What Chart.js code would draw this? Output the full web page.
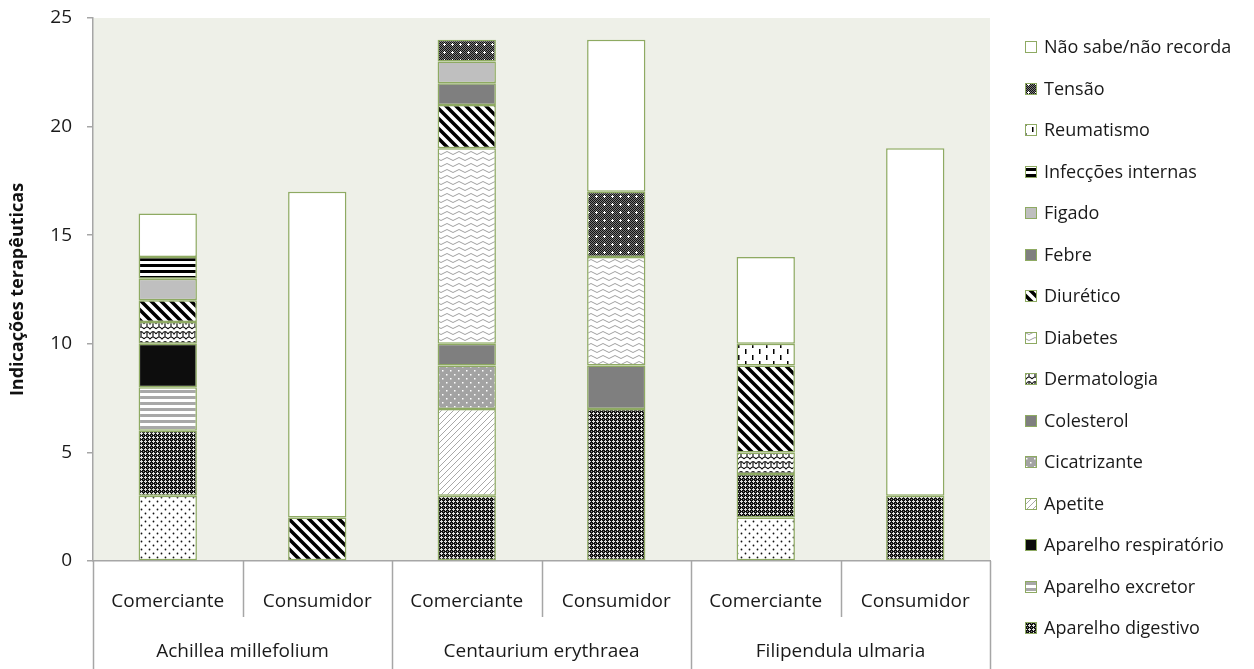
<!DOCTYPE html>
<html>
<head>
<meta charset="utf-8">
<script src="https://cdn.jsdelivr.net/npm/chart.js@4/dist/chart.umd.min.js"></script>
<style>
html,body{margin:0;padding:0;background:#fff;}
canvas{display:block;}
</style>
</head>
<body>
<canvas id="c" width="1254" height="669"></canvas>
<script>
// ---- DATA ----
const subCategories = ['Comerciante','Consumidor','Comerciante','Consumidor','Comerciante','Consumidor'];
const groupCategories = ['Achillea millefolium','Centaurium erythraea','Filipendula ulmaria'];
const yTicks = [0,5,10,15,20,25];

// stacked bottom -> top
const hiddenDotted        = [3,0,0,0,2,0];   // dotted series (its legend entry is cut off in the reference)
const aparelhoDigestivo   = [3,0,3,7,2,3];
const aparelhoExcretor    = [2,0,0,0,0,0];
const aparelhoRespirat    = [2,0,0,0,0,0];
const apetite             = [0,0,4,0,0,0];
const cicatrizante        = [0,0,2,0,0,0];
const colesterol          = [0,0,1,2,0,0];
const dermatologia        = [1,0,0,0,1,0];
const diabetes            = [0,0,9,5,0,0];
const diuretico           = [1,2,2,0,4,0];
const febre               = [0,0,1,0,0,0];
const figado              = [1,0,1,0,0,0];
const infeccoesInternas   = [1,0,0,0,0,0];
const reumatismo          = [0,0,0,0,1,0];
const tensao              = [0,0,1,3,0,0];
const naoSabe             = [2,15,0,7,4,16];

const seriesLabels = ['', 'Aparelho digestivo','Aparelho excretor','Aparelho respiratório','Apetite','Cicatrizante',
  'Colesterol','Dermatologia','Diabetes','Diurético','Febre','Figado','Infecções internas','Reumatismo','Tensão',
  'Não sabe/não recorda'];
const seriesValues = [hiddenDotted, aparelhoDigestivo, aparelhoExcretor, aparelhoRespirat, apetite, cicatrizante,
  colesterol, dermatologia, diabetes, diuretico, febre, figado, infeccoesInternas, reumatismo, tensao, naoSabe];

// ---- PATTERNS ----
const helperCtx = document.createElement('canvas').getContext('2d');
function pat(w,h,draw){
  const c=document.createElement('canvas'); c.width=w; c.height=h;
  const g=c.getContext('2d'); draw(g,w,h);
  return helperCtx.createPattern(c,'repeat');
}
const P = {
  dots: pat(8,8,(g)=>{g.fillStyle='#fff';g.fillRect(0,0,8,8);g.fillStyle='#111';
    g.beginPath();g.arc(1.5,1.5,0.9,0,7);g.fill();g.beginPath();g.arc(5.5,5.5,0.9,0,7);g.fill();}),
  digest: pat(4,4,(g)=>{g.fillStyle='#111';g.fillRect(0,0,4,4);g.fillStyle='#e0e0e0';
    [[1,0],[0,1],[1,1],[2,1],[1,2]].forEach(p=>g.fillRect(p[0],p[1],1,1));g.fillStyle='#888';g.fillRect(3,3,1,1);}),
  excretor: pat(4,6,(g)=>{g.fillStyle='#fff';g.fillRect(0,0,4,6);g.fillStyle='#a8a8a8';g.fillRect(0,0,4,3);}),
  resp: '#0d0d0d',
  apetite: pat(6,6,(g)=>{g.fillStyle='#fff';g.fillRect(0,0,6,6);g.strokeStyle='#a8a8a8';g.lineWidth=1;
    g.beginPath();g.moveTo(0,6);g.lineTo(6,0);g.moveTo(-1,1);g.lineTo(1,-1);g.moveTo(5,7);g.lineTo(7,5);g.stroke();}),
  cicatr: pat(8,8,(g)=>{g.fillStyle='#a3a3a3';g.fillRect(0,0,8,8);g.fillStyle='#fff';
    g.fillRect(2,2,1.5,1.5);g.fillRect(6,6,1.5,1.5);}),
  colest: '#7f7f7f',
  dermat: pat(12,10,(g)=>{g.fillStyle='#fff';g.fillRect(0,0,12,10);g.strokeStyle='#111';g.lineWidth=1.2;
    g.beginPath();g.moveTo(0,4);g.quadraticCurveTo(3,-1,6,4);g.quadraticCurveTo(9,-1,12,4);
    g.moveTo(3,1.5);g.lineTo(3,7);g.moveTo(9,1.5);g.lineTo(9,7);
    g.moveTo(0,9);g.quadraticCurveTo(3,5,6,9);g.quadraticCurveTo(9,5,12,9);g.stroke();}),
  diabetes: pat(12,6,(g)=>{g.fillStyle='#fff';g.fillRect(0,0,12,6);g.strokeStyle='#a0a0a0';g.lineWidth=1;
    g.beginPath();g.moveTo(0,3);g.quadraticCurveTo(3,0,6,3);g.quadraticCurveTo(9,6,12,3);g.stroke();}),
  diuret: pat(10,10,(g)=>{g.fillStyle='#fff';g.fillRect(0,0,10,10);g.strokeStyle='#000';g.lineWidth=3.5;
    g.beginPath();g.moveTo(0,0);g.lineTo(10,10);g.moveTo(-2,8);g.lineTo(2,12);g.moveTo(8,-2);g.lineTo(12,2);g.stroke();}),
  febre: '#7f7f7f',
  figado: '#bfbfbf',
  infec: pat(4,6,(g)=>{g.fillStyle='#fff';g.fillRect(0,0,4,6);g.fillStyle='#000';g.fillRect(0,0,4,3);}),
  reuma: pat(14,12,(g)=>{g.fillStyle='#fff';g.fillRect(0,0,14,12);g.fillStyle='#000';
    g.fillRect(3,1,1.5,5);g.fillRect(10,7,1.5,5);}),
  tensao: pat(8,8,(g)=>{for(let y=0;y<8;y++)for(let x=0;x<8;x++){g.fillStyle=((x+y)%2===0)?'#111':'#7a7a7a';g.fillRect(x,y,1,1);}
    g.fillStyle='#fff';[[4,3],[3,4],[4,4],[5,4],[4,5]].forEach(p=>g.fillRect(p[0],p[1],1,1));}),
  nao: '#ffffff'
};
const seriesFills = [P.dots,P.digest,P.excretor,P.resp,P.apetite,P.cicatr,P.colest,P.dermat,P.diabetes,P.diuret,
  P.febre,P.figado,P.infec,P.reuma,P.tensao,P.nao];

const OLIVE = '#8eaa62';
const AXIS = '#a6a6a6';
const FONT = "'Open Sans', 'DejaVu Sans', sans-serif";

const datasets = seriesValues.map((vals,i)=>({
  label: seriesLabels[i],
  data: vals.map(v => v === 0 ? null : v),
  backgroundColor: seriesFills[i],
  borderColor: OLIVE,
  borderWidth: 1.5,
  borderSkipped: false,
  barPercentage: 0.39,
  categoryPercentage: 1.0
}));

// ---- PLUGINS ----
const bgPlugin = {
  id:'bg',
  beforeDraw(chart){
    const {ctx, chartArea:a} = chart;
    ctx.save(); ctx.fillStyle='#eef0e8'; ctx.fillRect(a.left,a.top,a.right-a.left,a.bottom-a.top); ctx.restore();
  }
};
const axisExtras = {
  id:'axisExtras',
  afterDraw(chart){
    const {ctx, chartArea:a} = chart;
    const xs = chart.scales.x;
    const n = subCategories.length;
    const half = (xs.getPixelForValue(1)-xs.getPixelForValue(0))/2;
    ctx.save();
    ctx.strokeStyle = AXIS; ctx.lineWidth = 1.5;
    for(let i=0;i<=n;i++){
      const x = i<n ? xs.getPixelForValue(i)-half : xs.getPixelForValue(n-1)+half;
      const isGroup = (i%2===0);
      ctx.beginPath(); ctx.moveTo(Math.round(x)+0.5, a.bottom); ctx.lineTo(Math.round(x)+0.5, isGroup ? chart.height : a.bottom+56); ctx.stroke();
    }
    ctx.fillStyle='#1a1a1a'; ctx.font = "19px " + FONT; ctx.textAlign='center'; ctx.textBaseline='middle';
    groupCategories.forEach((g,k)=>{
      const cx = (xs.getPixelForValue(2*k)+xs.getPixelForValue(2*k+1))/2;
      ctx.fillText(g, cx, 652);
    });
    // legend (reversed, dotted series entry not visible in reference)
    const items = [];
    for(let i=datasets.length-1;i>=1;i--) items.push(i);
    ctx.textAlign='left';
    ctx.font = "18px " + FONT;
    items.forEach((di,k)=>{
      const y = 47 + k*41.5;
      ctx.fillStyle = datasets[di].backgroundColor;
      ctx.fillRect(1025, Math.round(y-6), 12, 12);
      ctx.strokeStyle = OLIVE; ctx.lineWidth=1;
      ctx.strokeRect(1025.5, Math.round(y-6)+0.5, 11, 11);
      ctx.fillStyle='#1a1a1a';
      ctx.fillText(datasets[di].label, 1044, y+1);
    });
    ctx.restore();
  }
};

new Chart(document.getElementById('c'), {
  type:'bar',
  data:{ labels: subCategories, datasets },
  options:{
    responsive:false, animation:false, devicePixelRatio:1,
    layout:{ padding:{ top:18, right:264, left:0, bottom:0 } },
    plugins:{ legend:{display:false}, tooltip:{enabled:false} },
    scales:{
      x:{
        stacked:true,
        grid:{ display:false },
        border:{ display:true, color:AXIS, width:1.5 },
        ticks:{ font:{family:FONT,size:19}, color:'#1a1a1a', padding:21, maxRotation:0, autoSkip:false },
        afterFit(s){ s.height = 108; s.paddingLeft = 0; s.paddingRight = 0; }
      },
      y:{
        stacked:true, min:0, max:25,
        afterBuildTicks(s){ s.ticks = yTicks.map(v=>({value:v})); },
        ticks:{ font:{family:FONT,size:19}, color:'#1a1a1a', padding:15 },
        grid:{ drawOnChartArea:false, drawTicks:true, tickLength:6, color:AXIS, lineWidth:1.5 },
        border:{ display:true, color:AXIS, width:1.5 },
        title:{ display:true, text:'Indicações terapêuticas', font:{family:FONT,size:18,weight:'bold'}, color:'#111', padding:{top:7,bottom:0} },
        afterFit(s){ s.width = 93; s.paddingTop = 0; s.paddingBottom = 0; }
      }
    }
  },
  plugins:[bgPlugin, axisExtras]
});
</script>
</body>
</html>
